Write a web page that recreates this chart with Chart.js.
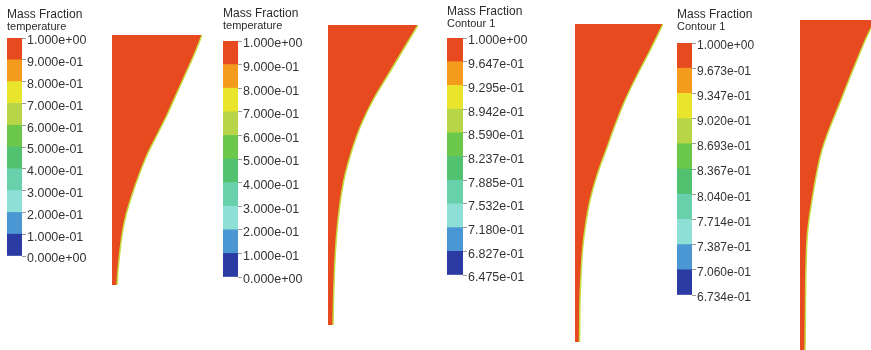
<!DOCTYPE html>
<html>
<head>
<meta charset="utf-8">
<script src="https://cdn.jsdelivr.net/npm/chart.js@4.4.1/dist/chart.umd.min.js"></script>
<style>
  html, body { margin: 0; padding: 0; background: #fff; }
  #fig { position: relative; width: 871px; height: 350px; overflow: hidden; }
  #fig canvas { position: absolute; }
</style>
</head>
<body>
<div id="fig"></div>
<script>
// band colours, bottom of the legend to the top
const bandColors = ['#2c3ba3', '#4b97d3', '#8edfd6', '#68d1ab', '#52c270',
                    '#6bc84b', '#b8d548', '#e8e52c', '#f49b1e', '#e64a1e'];

const titles = ['Mass Fraction', 'Mass Fraction', 'Mass Fraction', 'Mass Fraction'];
const subtitles = ['temperature', 'temperature', 'Contour 1', 'Contour 1'];

// legend levels, bottom to top
const levels1 = ['0.000e+00', '1.000e-01', '2.000e-01', '3.000e-01', '4.000e-01', '5.000e-01',
                 '6.000e-01', '7.000e-01', '8.000e-01', '9.000e-01', '1.000e+00'];
const levels2 = ['0.000e+00', '1.000e-01', '2.000e-01', '3.000e-01', '4.000e-01', '5.000e-01',
                 '6.000e-01', '7.000e-01', '8.000e-01', '9.000e-01', '1.000e+00'];
const levels3 = ['6.475e-01', '6.827e-01', '7.180e-01', '7.532e-01', '7.885e-01', '8.237e-01',
                 '8.590e-01', '8.942e-01', '9.295e-01', '9.647e-01', '1.000e+00'];
const levels4 = ['6.734e-01', '7.060e-01', '7.387e-01', '7.714e-01', '8.040e-01', '8.367e-01',
                 '8.693e-01', '9.020e-01', '9.347e-01', '9.673e-01', '1.000e+00'];

// outline of each region: depth from the top and width of the filled part
const depth1 = [0, 20, 40, 60, 80, 100, 120, 140, 160, 180, 200, 220, 235, 250];
const edge1  = [90, 82, 73, 64, 55, 45, 35, 27, 20, 14, 10, 7.5, 6, 5];
const depth2 = [0, 25, 50, 75, 100, 125, 150, 175, 200, 225, 250, 275, 300];
const edge2  = [90, 75, 60, 45, 33, 24, 17, 12.5, 9.5, 7.5, 6.3, 5.5, 5];
const depth3 = [0, 26, 51, 76, 101, 126, 151, 176, 201, 226, 251, 276, 318];
const edge3  = [87.7, 75, 62, 50, 40, 31, 22, 15, 10.5, 7.5, 6, 5, 4.5];
const depth4 = [0, 10, 40, 80, 130, 180, 213, 247, 280, 335];
const edge4  = [76, 70, 57, 41, 22, 12, 7.5, 6, 5.5, 5];

// layout only
const barBoxes = [
  { left: 7,   top: 9, gap: 6,  height: 218, barWidth: 15, font: 12.5 },
  { left: 223, top: 8, gap: 10, height: 236, barWidth: 15, font: 12.5 },
  { left: 447, top: 6, gap: 9,  height: 237, barWidth: 16, font: 12.5 },
  { left: 677, top: 9, gap: 11, height: 252, barWidth: 15, font: 12 }
];
const shapeBoxes = [
  { left: 112, top: 35 }, { left: 328, top: 25 }, { left: 575, top: 24 }, { left: 800, top: 20 }
];

const family = "'Liberation Sans', Arial, sans-serif";
const fig = document.getElementById('fig');

function makeCanvas(left, top, w, h) {
  const cv = document.createElement('canvas');
  cv.width = Math.round(w);
  cv.height = Math.round(h);
  cv.style.left = left + 'px';
  cv.style.top = top + 'px';
  fig.appendChild(cv);
  return cv;
}

function colorBar(box, levels, title, subtitle) {
  const axisWidth = 80;
  const cv = makeCanvas(box.left, box.top, axisWidth + box.barWidth, 23 + box.gap + box.height + 10);
  new Chart(cv, {
    type: 'bar',
    data: {
      labels: [''],
      datasets: bandColors.map(c => ({
        data: [1], backgroundColor: c, borderWidth: 0,
        barPercentage: 1, categoryPercentage: 1
      }))
    },
    options: {
      responsive: false,
      animation: false,
      devicePixelRatio: 1,
      layout: { padding: { top: 0, left: 0, right: 0, bottom: 10 } },
      plugins: {
        legend: { display: false },
        tooltip: { enabled: false },
        title: {
          display: true, text: title, align: 'start', color: '#2b2b2b',
          font: { family, size: 12, weight: 'normal', lineHeight: 1 }, padding: 0
        },
        subtitle: {
          display: true, text: subtitle, align: 'start', color: '#2b2b2b',
          font: { family, size: 11, lineHeight: 1 }, padding: { top: 0, bottom: box.gap }
        }
      },
      scales: {
        x: { stacked: true, display: false },
        y: {
          stacked: true, position: 'right', min: 0, max: 10,
          afterFit(scale) { scale.width = axisWidth; },
          ticks: {
            stepSize: 1, autoSkip: false, padding: 1, labelOffset: 3, color: '#333',
            font: { family, size: box.font },
            callback: v => levels[v]
          },
          grid: { drawOnChartArea: false, drawTicks: true, tickLength: 4, color: '#999' },
          border: { display: false }
        }
      }
    }
  });
}

function region(box, depth, edge) {
  const W = Math.max(...edge);
  const H = depth[depth.length - 1];
  const pad = 3;
  const cv = makeCanvas(box.left - pad, box.top - pad, W + 2 * pad, H + 2 * pad);
  new Chart(cv, {
    type: 'line',
    data: {
      datasets: [{
        data: depth.map((d, i) => ({ x: edge[i], y: d })),
        fill: { value: 0 },
        backgroundColor: bandColors[9],
        borderColor: '#c6dc40',
        borderWidth: 1.5,
        pointRadius: 0,
        cubicInterpolationMode: 'monotone'
      }]
    },
    options: {
      indexAxis: 'y',
      responsive: false,
      animation: false,
      devicePixelRatio: 1,
      layout: { padding: pad },
      plugins: { legend: { display: false }, tooltip: { enabled: false } },
      scales: {
        x: { type: 'linear', min: 0, max: W, display: false },
        y: { type: 'linear', min: 0, max: H, reverse: true, display: false }
      }
    }
  });
}

const allLevels = [levels1, levels2, levels3, levels4];
const allDepths = [depth1, depth2, depth3, depth4];
const allEdges = [edge1, edge2, edge3, edge4];

for (let i = 0; i < 4; i++) {
  colorBar(barBoxes[i], allLevels[i], titles[i], subtitles[i]);
  region(shapeBoxes[i], allDepths[i], allEdges[i]);
}
</script>
</body>
</html>
